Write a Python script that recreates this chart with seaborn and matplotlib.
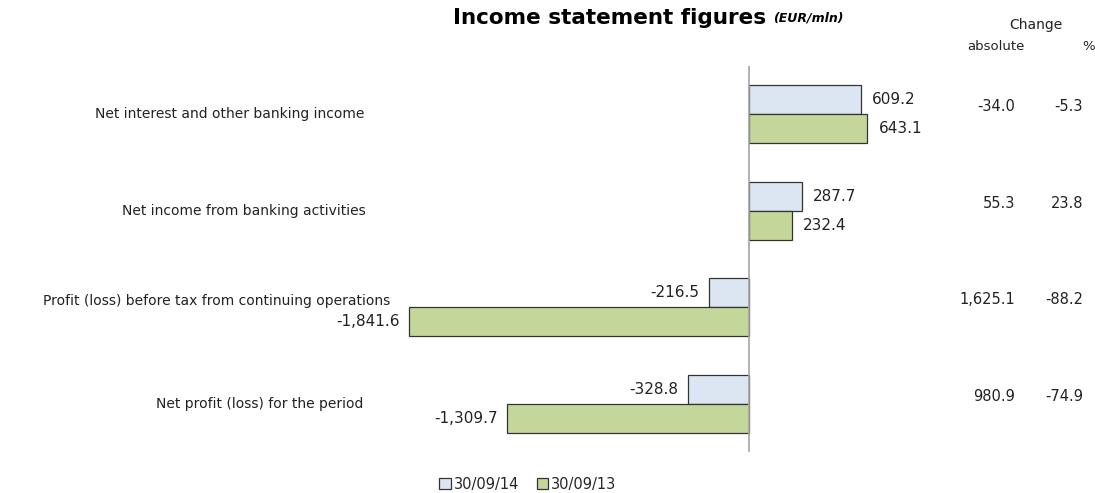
import pandas as pd
import matplotlib.pyplot as plt
import matplotlib.transforms as mtransforms
import seaborn as sns

# values (EUR/mln)
categories = ['Net interest and other banking income',
              'Net income from banking activities',
              'Profit (loss) before tax from continuing operations',
              'Net profit (loss) for the period']
periods = ['30/09/14', '30/09/13']
values_14 = [609.2, 287.7, -216.5, -328.8]
values_13 = [643.1, 232.4, -1841.6, -1309.7]
change_abs = [-34.0, 55.3, 1625.1, 980.9]
change_pct = [-5.3, 23.8, -88.2, -74.9]

colors = ['#DCE6F2', '#C4D79B']

df = pd.DataFrame({
    'category': categories * 2,
    'period': [periods[0]] * 4 + [periods[1]] * 4,
    'value': values_14 + values_13,
})

sns.set_style('white')
plt.rcParams['font.family'] = ['DejaVu Sans']

fig = plt.figure(figsize=(10.95, 4.93), dpi=100)
ax = fig.add_axes([402 / 1095, 1 - 452 / 493, 498 / 1095, 386 / 493])

sns.barplot(data=df, y='category', x='value', hue='period', orient='h',
            palette=colors, width=0.6, edgecolor='#333333', linewidth=0.9,
            saturation=1, ax=ax)

ax.set_xlim(-1880, 820)
ax.set_ylim(3.5, -0.5)
ax.axvline(0, color='#A6A6A6', linewidth=1.2)
for s in ax.spines.values():
    s.set_visible(False)
ax.set_xticks([])
ax.set_yticks([])
ax.set_xlabel('')
ax.set_ylabel('')

# value labels next to bar ends
for cont in ax.containers:
    for bar in cont:
        w = bar.get_width()
        yc = bar.get_y() + bar.get_height() / 2
        txt = f'{w:,.1f}'
        if w >= 0:
            ax.annotate(txt, (w, yc), xytext=(8, 0), textcoords='offset points',
                        ha='left', va='center', fontsize=11, color='#222222')
        else:
            ax.annotate(txt, (w, yc), xytext=(-7, 0), textcoords='offset points',
                        ha='right', va='center', fontsize=11, color='#222222')

# category labels on the left
trans = mtransforms.blended_transform_factory(fig.transFigure, ax.transData)
label_x = [364, 366, 390, 363]
label_dy = [0, 0, -0.06, 0]
for i, cat in enumerate(categories):
    ax.text(label_x[i] / 1095, i + label_dy[i], cat, transform=trans,
            ha='right', va='center', fontsize=10, color='#222222')

# change columns
for i in range(len(categories)):
    ax.text(1015 / 1095, i - 0.08, f'{change_abs[i]:,.1f}', transform=trans,
            ha='right', va='center', fontsize=10.5, color='#222222')
    ax.text(1083 / 1095, i - 0.08, f'{change_pct[i]:,.1f}', transform=trans,
            ha='right', va='center', fontsize=10.5, color='#222222')

fig.text(1036 / 1095, 1 - 25 / 493, 'Change', ha='center', va='center',
         fontsize=10, color='#222222')
fig.text(996 / 1095, 1 - 46 / 493, 'absolute', ha='center', va='center',
         fontsize=9.5, color='#222222')
fig.text(1089 / 1095, 1 - 46 / 493, '%', ha='center', va='center',
         fontsize=9.5, color='#222222')

# title
fig.text(766 / 1095, 1 - 18 / 493, 'Income statement figures', ha='right',
         va='center', fontsize=15.5, fontweight='bold', color='black')
fig.text(773 / 1095, 1 - 18 / 493, '(EUR/mln)', ha='left', va='center',
         fontsize=9, fontweight='bold', style='italic', color='black')

# legend at bottom
handles, labels = ax.get_legend_handles_labels()
ax.get_legend().remove()
fig.legend(handles, labels, loc='center', bbox_to_anchor=(528 / 1095, 1 - 484 / 493),
           ncol=2, frameon=False, fontsize=10.5, handlelength=0.8, handleheight=0.8,
           handletextpad=0.2, columnspacing=1.2)

plt.savefig('out.png', dpi=100)
